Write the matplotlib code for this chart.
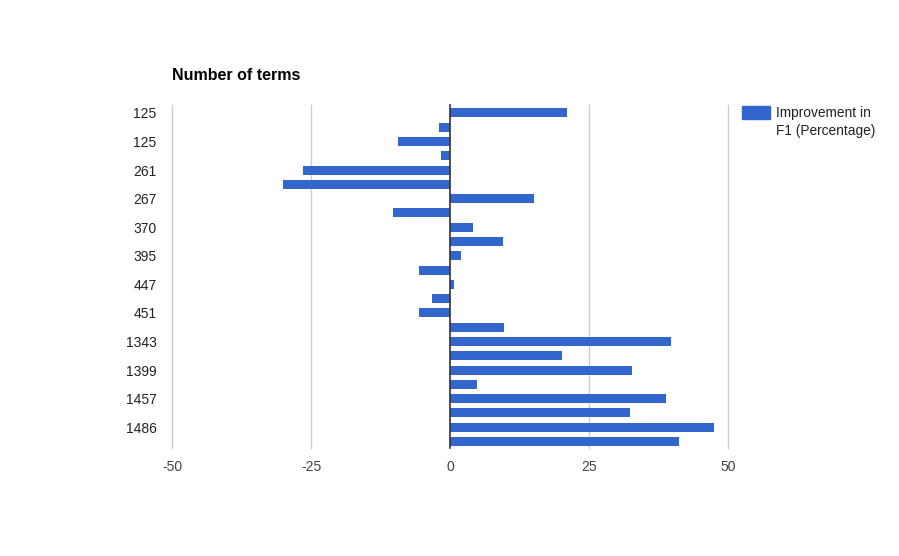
import numpy as np
import matplotlib
matplotlib.use('Agg')
import matplotlib.pyplot as plt
from matplotlib.patches import Rectangle

plt.rcParams['font.family'] = ['Liberation Sans', 'DejaVu Sans']

#### DATA ####
# improvement in F1 (%) for each of the 24 rows, top to bottom
improvement = [21.1, -2.0, -9.3, -1.7, -26.4, -30.0, 15.1, -10.3,
               4.1, 9.5, 1.9, -5.6, 0.8, -3.3, -5.6, 9.7,
               39.7, 20.2, 32.8, 4.8, 38.8, 32.4, 47.4, 41.1]
# only every other row gets a label in the chart
shown_labels = ['125', '125', '261', '267', '370', '395',
                '447', '451', '1343', '1399', '1457', '1486']
x_ticks = [-50, -25, 0, 25, 50]
series_name = ['Improvement in', 'F1 (Percentage)']
title = 'Number of terms'

#### PLOT ####
W, H = 899, 556
fig = plt.figure(figsize=(W / 100, H / 100), dpi=100)
ax = fig.add_axes([172 / W, 1 - 448 / H, (728 - 172) / W, (448 - 105) / H])

y = np.arange(len(improvement))
ax.barh(y + 0.05, improvement, height=0.63, color='#3366cc', zorder=3)
ax.set_ylim(len(improvement) - 0.5, -0.5)
ax.set_xlim(-50, 50)

for v in x_ticks:
    if v == 0:
        ax.axvline(0, color='#333333', lw=1.2, zorder=4, clip_on=False)
    else:
        ax.axvline(v, color='#cccccc', lw=1, zorder=1, clip_on=False)

ax.set_xticks(x_ticks)
ax.set_xticklabels([str(v) for v in x_ticks], fontsize=10, color='#444444')
ax.set_yticks(y[::2] + 0.05)
ax.set_yticklabels(shown_labels, fontsize=10, color='#222222')
ax.tick_params(axis='both', length=0)
ax.tick_params(axis='x', pad=8.5)
ax.tick_params(axis='y', pad=11)
for s in ax.spines.values():
    s.set_visible(False)

fig.text(172 / W, 1 - 76 / H, title, fontsize=11.5, fontweight='bold',
         color='black', va='center', ha='left')

# legend
fig.patches.append(Rectangle((742 / W, 1 - 119 / H), 28 / W, 13 / H,
                             transform=fig.transFigure, color='#3366cc'))
fig.text(776 / W, 1 - 113 / H, series_name[0], fontsize=9.9,
         color='#222222', va='center', ha='left')
fig.text(776 / W, 1 - 131 / H, series_name[1], fontsize=9.9,
         color='#222222', va='center', ha='left')

fig.savefig('out.png', dpi=100)
